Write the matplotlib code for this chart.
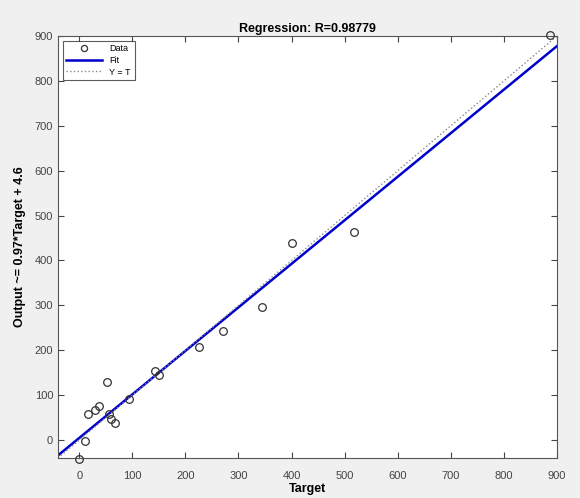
import matplotlib
matplotlib.use('Agg')
import matplotlib.pyplot as plt
import numpy as np

# values
target = [0, 10, 17, 30, 38, 53, 57, 60, 68, 93, 143, 151, 226, 270, 345, 400, 517, 887]
output = [-42, -2, 58, 67, 76, 129, 58, 47, 38, 91, 153, 144, 207, 244, 296, 438, 464, 902]
fit_slope = 0.97
fit_offset = 4.6
r_value = 0.98779
ticks = [0, 100, 200, 300, 400, 500, 600, 700, 800, 900]
lims = [-40, 900]

plt.rcParams['font.family'] = ['Liberation Sans', 'DejaVu Sans']

fig = plt.figure(figsize=(5.8, 4.98), dpi=100, facecolor='#f0f0f0')
ax = fig.add_axes([58 / 580, 1 - 458 / 498, (557 - 58) / 580, (458 - 36) / 498])

xs = np.array(lims)
ax.plot(target, output, 'o', mfc='none', mec='#333333', ms=5.5, mew=0.9, label='Data',
        clip_on=False, zorder=4)
ax.plot(xs, fit_slope * xs + fit_offset, '-', color='#0000cc', lw=1.8, label='Fit')
ax.plot(xs, xs, ':', color='#888888', lw=1, label='Y = T')

ax.set_xlim(lims)
ax.set_ylim(lims)
ax.set_xticks(ticks)
ax.set_yticks(ticks)
ax.tick_params(direction='in', top=True, right=True, labelsize=8, colors='#444444',
               length=4)
ax.tick_params(axis='x', pad=9)
for s in ax.spines.values():
    s.set_color('#555555')

ax.set_title('Regression: R=%.5f' % r_value, fontsize=9, fontweight='bold', pad=3)
ax.set_xlabel('Target', fontsize=9, fontweight='bold', labelpad=2)
ax.set_ylabel('Output ~= %.2g*Target + %.1f' % (fit_slope, fit_offset), fontsize=9,
              fontweight='bold', labelpad=6)

leg = ax.legend(loc='upper left', fontsize=6.5, fancybox=False, edgecolor='#333333',
                handlelength=4, borderpad=0.4, labelspacing=0.3, markerscale=0.8)
leg.get_frame().set_linewidth(0.8)

fig.savefig('out.png', dpi=100, facecolor=fig.get_facecolor())
